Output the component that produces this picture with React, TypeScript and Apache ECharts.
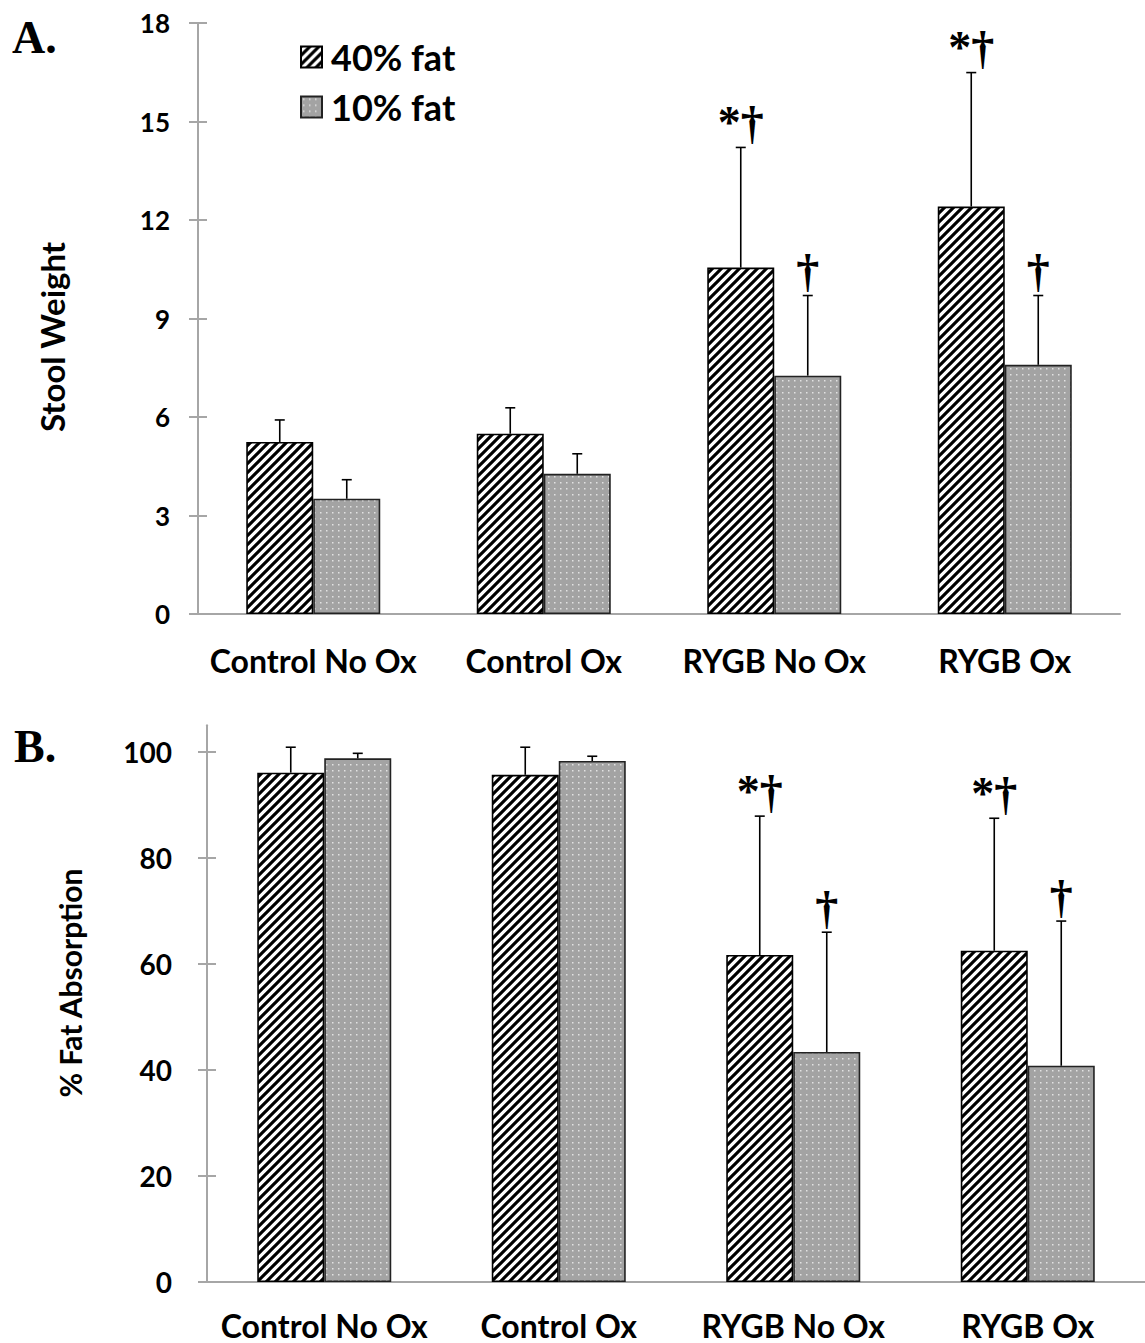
import React, { useEffect, useRef } from "react";
import * as echarts from "echarts";

// ---------------- data ----------------
const categories = ["Control No Ox", "Control Ox", "RYGB No Ox", "RYGB Ox"];

// Panel A: stool weight
const stoolFat40 = [5.24, 5.49, 10.55, 12.41];
const stoolFat40Err = [0.67, 0.79, 3.66, 4.08];
const stoolFat10 = [3.51, 4.27, 7.26, 7.59];
const stoolFat10Err = [0.58, 0.61, 2.44, 2.11];
const stoolSig40 = ["", "", "*†", "*†"];
const stoolSig10 = ["", "", "†", "†"];
const stoolTicks = [0, 3, 6, 9, 12, 15, 18];

// Panel B: % fat absorption
const absFat40 = [96.1, 95.7, 61.7, 62.5];
const absFat40Err = [4.8, 5.2, 26.2, 25.0];
const absFat10 = [98.8, 98.3, 43.4, 40.8];
const absFat10Err = [0.95, 0.9, 22.6, 27.3];
const absSig40 = ["", "", "*†", "*†"];
const absSig10 = ["", "", "†", "†"];
const absTicks = [0, 20, 40, 60, 80, 100];

const seriesNames = ["40% fat", "10% fat"];

// ---------------- styles ----------------
const SANS = 'Lato, "Open Sans", "DejaVu Sans", sans-serif';
const SERIF = '"Liberation Serif", "DejaVu Serif", serif';
const AXIS_GRAY = "#a6a6a6";
const BAR_W = 67;
const GRID_A = { left: 198, top: 23, width: 922, height: 591 };
const GRID_B = { left: 207, top: 725.5, width: 940, height: 556.5 };

function makeHatch() {
  const s = 9;
  const c = document.createElement("canvas");
  c.width = s;
  c.height = s;
  const g = c.getContext("2d")!;
  g.fillStyle = "#ffffff";
  g.fillRect(0, 0, s, s);
  g.strokeStyle = "#000000";
  g.lineWidth = 3.1;
  g.beginPath();
  g.moveTo(-2, s + 2);
  g.lineTo(s + 2, -2);
  g.moveTo(-3, 3);
  g.lineTo(3, -3);
  g.moveTo(s - 3, s + 3);
  g.lineTo(s + 3, s - 3);
  g.stroke();
  return c;
}

function makeDots() {
  const c = document.createElement("canvas");
  c.width = 6;
  c.height = 6;
  const g = c.getContext("2d")!;
  g.fillStyle = "#a3a3a3";
  g.fillRect(0, 0, 6, 6);
  g.fillStyle = "#e2e2e2";
  g.fillRect(2, 2, 1.5, 1.5);
  return c;
}

export default function App() {
  const ref = useRef<HTMLDivElement>(null);

  useEffect(() => {
    document.body.style.margin = "0";
    if (!ref.current) return;
    const chart = echarts.init(ref.current, undefined, { renderer: "svg" });

    const hatch = { image: makeHatch(), repeat: "repeat", imageWidth: 9, imageHeight: 9 };
    const dots = { image: makeDots(), repeat: "repeat", imageWidth: 6, imageHeight: 6 };
    const barStyles = [
      { color: hatch, borderColor: "#000", borderWidth: 1.6 },
      { color: dots, borderColor: "#222", borderWidth: 1.6 },
    ];

    const errSeries = (
      id: string,
      axisIndex: number,
      vals: number[],
      errs: number[],
      sig: string[],
      side: number
    ) => ({
      type: "custom",
      name: id,
      xAxisIndex: axisIndex,
      yAxisIndex: axisIndex,
      z: 10,
      silent: true,
      data: vals.map((v, i) => [i, v, errs[i]]),
      renderItem: (params: any, api: any) => {
        const idx = api.value(0);
        const v = api.value(1);
        const e = api.value(2);
        const label = sig[idx];
        const base = api.coord([idx, v]);
        const top = api.coord([idx, v + e]);
        const x = base[0] + side * (BAR_W / 2);
        const children: any[] = [
          {
            type: "line",
            shape: { x1: x, y1: base[1], x2: x, y2: top[1] },
            style: { stroke: "#000", lineWidth: 1.6 },
          },
          {
            type: "line",
            shape: { x1: x - 5, y1: top[1], x2: x + 5, y2: top[1] },
            style: { stroke: "#000", lineWidth: 1.6 },
          },
        ];
        if (label) {
          children.push({
            type: "text",
            x: x,
            y: top[1] - 2,
            style: {
              text: label,
              fontFamily: SERIF,
              fontSize: 46,
              fontWeight: "bold",
              fill: "#000",
              align: "center",
              verticalAlign: "bottom",
            },
          });
        }
        return { type: "group", children };
      },
    });

    const yMain = (
      gridIndex: number,
      max: number,
      interval: number,
      ticks: number[],
      margin: number,
      fontSize: number
    ) => ({
      type: "value",
      gridIndex,
      min: 0,
      max,
      interval,
      axisLine: { show: true, lineStyle: { color: AXIS_GRAY, width: 2 } },
      axisTick: {
        show: true,
        length: 9,
        lineStyle: { color: AXIS_GRAY, width: 2 },
        customValues: ticks,
      },
      axisLabel: {
        margin,
        fontFamily: SANS,
        fontWeight: "bold",
        fontSize,
        color: "#000",
        customValues: ticks,
      },
      splitLine: { show: false },
    });

    // twin axis (in an identical overlaid grid) carrying the inner half of the cross ticks
    const yTwin = (gridIndex: number, max: number, interval: number, ticks: number[]) => ({
      type: "value",
      gridIndex,
      min: 0,
      max,
      interval,
      axisLine: { show: true, lineStyle: { color: AXIS_GRAY, width: 2 } },
      axisTick: {
        show: true,
        inside: true,
        length: 9,
        lineStyle: { color: AXIS_GRAY, width: 2 },
        customValues: ticks,
      },
      axisLabel: { show: false },
      splitLine: { show: false },
    });

    const xAxis = (gridIndex: number, margin: number, visible = true) => ({
      type: "category",
      gridIndex,
      data: categories,
      show: visible,
      axisLine: { show: true, lineStyle: { color: AXIS_GRAY, width: 2 } },
      axisTick: { show: false },
      axisLabel: {
        margin,
        interval: 0,
        fontFamily: SANS,
        fontWeight: "bold",
        fontSize: 32,
        lineHeight: 32,
        color: "#000",
      },
    });

    const option: any = {
      animation: false,
      backgroundColor: "#ffffff",
      grid: [GRID_A, GRID_B, GRID_A, GRID_B],
      xAxis: [xAxis(0, 30), xAxis(1, 27), xAxis(2, 30, false), xAxis(3, 27, false)],
      yAxis: [
        yMain(0, 18, 3, stoolTicks, 28, 26),
        yMain(1, 105, 20, absTicks, 35, 28),
        yTwin(2, 18, 3, stoolTicks),
        yTwin(3, 105, 20, absTicks),
      ],
      legend: {
        data: seriesNames,
        orient: "vertical",
        left: 300,
        top: 39,
        padding: 0,
        itemWidth: 21,
        itemHeight: 21,
        itemGap: 14,
        icon: "rect",
        selectedMode: false,
        textStyle: {
          fontFamily: SANS,
          fontWeight: "bold",
          fontSize: 36,
          lineHeight: 36,
          color: "#000",
          padding: [0, 0, 0, 4],
        },
      },
      series: [
        {
          type: "bar",
          name: seriesNames[0],
          xAxisIndex: 0,
          yAxisIndex: 0,
          data: stoolFat40,
          barWidth: BAR_W,
          barGap: "0%",
          itemStyle: barStyles[0],
        },
        {
          type: "bar",
          name: seriesNames[1],
          xAxisIndex: 0,
          yAxisIndex: 0,
          data: stoolFat10,
          barWidth: BAR_W,
          barGap: "0%",
          itemStyle: barStyles[1],
        },
        {
          type: "bar",
          name: seriesNames[0],
          xAxisIndex: 1,
          yAxisIndex: 1,
          data: absFat40,
          barWidth: BAR_W,
          barGap: "0%",
          itemStyle: barStyles[0],
        },
        {
          type: "bar",
          name: seriesNames[1],
          xAxisIndex: 1,
          yAxisIndex: 1,
          data: absFat10,
          barWidth: BAR_W,
          barGap: "0%",
          itemStyle: barStyles[1],
        },
        errSeries("errA40", 0, stoolFat40, stoolFat40Err, stoolSig40, -1),
        errSeries("errA10", 0, stoolFat10, stoolFat10Err, stoolSig10, 1),
        errSeries("errB40", 1, absFat40, absFat40Err, absSig40, -1),
        errSeries("errB10", 1, absFat10, absFat10Err, absSig10, 1),
      ],
      graphic: [
        {
          type: "text",
          x: 12,
          y: 37,
          style: {
            text: "A.",
            fontFamily: SERIF,
            fontWeight: "bold",
            fontSize: 46,
            fill: "#000",
            verticalAlign: "middle",
          },
        },
        {
          type: "text",
          x: 14,
          y: 746,
          style: {
            text: "B.",
            fontFamily: SERIF,
            fontWeight: "bold",
            fontSize: 46,
            fill: "#000",
            verticalAlign: "middle",
          },
        },
        {
          type: "text",
          x: 52,
          y: 337,
          rotation: Math.PI / 2,
          style: {
            text: "Stool Weight",
            fontFamily: SANS,
            fontWeight: "bold",
            fontSize: 33,
            fill: "#000",
            align: "center",
            verticalAlign: "middle",
          },
        },
        {
          type: "text",
          x: 70,
          y: 983,
          rotation: Math.PI / 2,
          style: {
            text: "% Fat Absorption",
            fontFamily: SANS,
            fontWeight: "bold",
            fontSize: 30,
            fill: "#000",
            align: "center",
            verticalAlign: "middle",
          },
        },
      ],
    };

    chart.setOption(option);
    return () => chart.dispose();
  }, []);

  return <div ref={ref} style={{ width: 1145, height: 1343 }} />;
}
